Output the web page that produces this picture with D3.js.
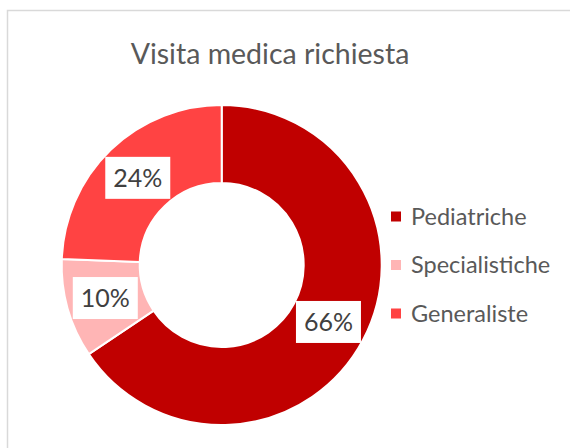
<!DOCTYPE html>
<html>
<head>
<meta charset="utf-8">
<script src="https://cdn.jsdelivr.net/npm/d3@7"></script>
<style>
  body { margin: 0; background: #fff; }
  svg { display: block; font-family: Lato, "Open Sans", sans-serif; }
</style>
</head>
<body>
<svg width="570" height="448"></svg>
<script>
var categories = ['Pediatriche', 'Specialistiche', 'Generaliste'];
var values = [65.6, 10.0, 24.4];
var colors = ['#C00000', '#FFB5B5', '#FF4343'];
var title = 'Visita medica richiesta';

var svg = d3.select('svg');

// chart area frame (cut off at right / bottom like the screenshot)
svg.append('rect')
    .attr('x', 7.5)
    .attr('y', 10.5)
    .attr('width', 620)
    .attr('height', 500)
    .attr('fill', '#fff')
    .attr('stroke', '#d9d9d9')
    .attr('stroke-width', 1.5);

svg.append('text')
    .attr('x', 270)
    .attr('y', 64)
    .attr('text-anchor', 'middle')
    .attr('font-size', 28.5)
    .attr('fill', '#595959')
    .text(title);

var cx = 221.7, cy = 265;
var outerR = 160, innerR = 82;

var data = categories.map(function(c, i) {
    return { name: c, value: values[i], color: colors[i] };
});
var total = d3.sum(values);

var pie = d3.pie()
    .sort(null)
    .value(function(d) { return d.value; });

var arc = d3.arc()
    .innerRadius(innerR)
    .outerRadius(outerR);

var pieG = svg.append('g')
    .attr('transform', 'translate(' + cx + ',' + cy + ')');

var arcs = pie(data);

pieG.selectAll('.slice')
    .data(arcs)
    .enter()
    .append('path')
    .attr('class', 'slice')
    .attr('d', arc)
    .attr('fill', function(d) { return d.data.color; })
    .attr('stroke', '#fff')
    .attr('stroke-width', 2);

var labelG = pieG.selectAll('.label')
    .data(arcs)
    .enter()
    .append('g')
    .attr('class', 'label')
    .attr('transform', function(d) {
        var c = arc.centroid(d);
        return 'translate(' + c[0] + ',' + c[1] + ')';
    });

labelG.append('rect')
    .attr('x', -32.5)
    .attr('y', -21)
    .attr('width', 65)
    .attr('height', 42)
    .attr('fill', '#fff');

labelG.append('text')
    .attr('text-anchor', 'middle')
    .attr('dy', '0.35em')
    .attr('font-size', 25)
    .attr('fill', '#404040')
    .text(function(d) { return Math.round(d.data.value / total * 100) + '%'; });

// legend
var legendY = d3.scalePoint()
    .domain(categories)
    .range([216.5, 313.5]);

var legend = svg.selectAll('.legend')
    .data(data)
    .enter()
    .append('g')
    .attr('class', 'legend')
    .attr('transform', function(d) { return 'translate(391,' + legendY(d.name) + ')'; });

legend.append('rect')
    .attr('x', 0)
    .attr('y', -5)
    .attr('width', 10)
    .attr('height', 10)
    .attr('fill', function(d) { return d.color; });

legend.append('text')
    .attr('x', 20)
    .attr('dy', '0.35em')
    .attr('font-size', 23.5)
    .attr('fill', '#595959')
    .text(function(d) { return d.name; });
</script>
</body>
</html>
